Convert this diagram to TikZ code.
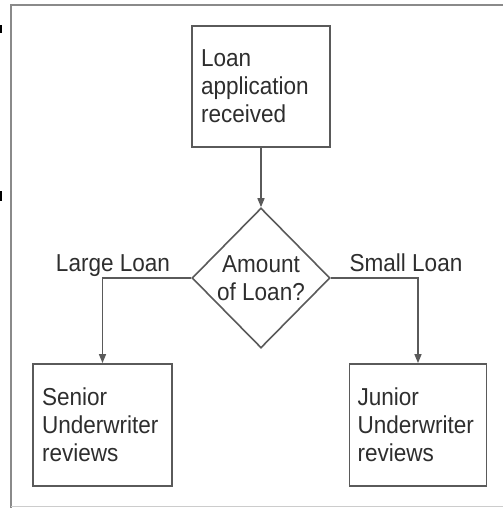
\documentclass[tikz,border=0pt]{standalone}
\usepackage{fontspec}
\setmainfont[FakeStretch=0.92]{Liberation Sans}
\usetikzlibrary{shapes.geometric,arrows.meta}
\definecolor{linegray}{HTML}{5A5A5A}
\definecolor{textgray}{HTML}{2E2E2E}
\definecolor{framegray}{HTML}{8A8A8A}
\begin{document}
\begin{tikzpicture}[x=1pt,y=1pt,
  every node/.style={font=\fontsize{24.5}{28}\selectfont, text=textgray},
  procbox/.style={draw=linegray, line width=1.8pt, rectangle, inner xsep=9pt,
    inner ysep=0pt, align=left, minimum height=122pt},
  decision/.style={draw=linegray, line width=1.6pt, diamond, inner sep=0pt,
    align=center, minimum width=138pt, minimum height=140pt},
  flow/.style={draw=linegray, line width=1.5pt,
    -{Triangle[length=9pt,width=7pt]}},
  branchlabel/.style={anchor=base, inner sep=0pt}]
  \useasboundingbox (0,0) rectangle (503,-508);

  % page frame and crop marks
  \draw[framegray, line width=2pt] (11,-508) -- (11,-5) -- (503,-5);
  \draw[black!20, line width=1pt] (11,-506) -- (503,-506);
  \fill[black] (0,-25) rectangle (1.6,-33);
  \fill[black] (0,-191) rectangle (1.6,-201);

  % flowchart
  \node[procbox, text width=120pt, minimum height=121pt] (start) at (261,-86.5)
    {Loan\\application\\received};
  \node[decision] (amount) at (261,-278) {Amount\\of Loan?};
  \node[procbox, text width=121pt] (senior) at (102.5,-425)
    {Senior\\Underwriter\\reviews};
  \node[procbox, text width=121pt, inner xsep=8pt] (junior) at (418,-425)
    {Junior\\Underwriter\\reviews};

  \draw[flow] (start.south) -- (amount.north);
  \draw[flow] (amount.west) -| (senior.north);
  \draw[flow] (amount.east) -| (junior.north);

  \node[branchlabel] (large) at (113,-271) {Large Loan};
  \node[branchlabel] (small) at (406,-271) {Small Loan};
\end{tikzpicture}
\end{document}
